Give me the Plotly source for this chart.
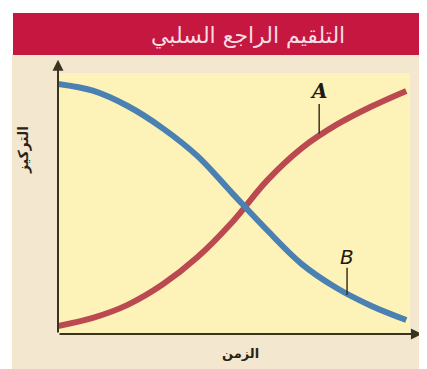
import plotly.graph_objects as go

# curve readings (time in arbitrary units, concentration 0..1)
time = [0, 1, 2, 3, 4, 5, 6, 7, 8, 9, 10]
conc_A = [0.031, 0.062, 0.112, 0.190, 0.295, 0.430, 0.590, 0.715, 0.805, 0.875, 0.935]
conc_B = [0.962, 0.936, 0.877, 0.792, 0.685, 0.542, 0.400, 0.269, 0.177, 0.108, 0.054]

title_text = "التلقيم الراجع السلبي"
x_label = "الزمن"
y_label = "التركيز"

W, H = 427, 369
L, R, T, B = 50, 400, 66, 326   # plot area in pixels


def px_x(p):
    return (p - L) / (R - L)


def px_y(p):
    return (B - p) / (B - T)


axis_col = "#3a3320"
a_x, b_x = 7.5, 8.3   # where the label leaders sit

fig = go.Figure()
fig.add_trace(go.Scatter(x=time, y=conc_A, mode="lines",
                         line=dict(color="#bb4a50", width=6, shape="spline"),
                         hoverinfo="skip"))
fig.add_trace(go.Scatter(x=time, y=conc_B, mode="lines",
                         line=dict(color="#4b80b3", width=6, shape="spline"),
                         hoverinfo="skip"))

shapes = [
    # beige panel
    dict(type="rect", xref="paper", yref="paper", layer="below",
         x0=px_x(4), x1=px_x(422), y0=px_y(361), y1=px_y(46),
         fillcolor="#f3e7cf", line=dict(width=0)),
    # yellow plot area
    dict(type="rect", xref="paper", yref="paper", layer="below",
         x0=px_x(50), x1=px_x(402), y0=px_y(326), y1=px_y(65),
         fillcolor="#fdf3b9", line=dict(width=0)),
    # title bar
    dict(type="rect", xref="paper", yref="paper", layer="below",
         x0=px_x(5), x1=px_x(427), y0=px_y(47), y1=px_y(5),
         fillcolor="#c5173f", line=dict(width=0)),
    # leader lines for A and B
    dict(type="line", xref="x", yref="y", x0=a_x, x1=a_x, y0=0.885, y1=0.77,
         line=dict(color=axis_col, width=1.5)),
    dict(type="line", xref="x", yref="y", x0=b_x, x1=b_x, y0=0.255, y1=0.15,
         line=dict(color=axis_col, width=1.5)),
]

annotations = [
    # axes with arrows
    dict(x=10.45, y=0, ax=0, ay=0, xref="x", yref="y", axref="x", ayref="y",
         text="", showarrow=True, arrowhead=2, arrowsize=1.1, arrowwidth=2,
         arrowcolor=axis_col, standoff=0, startstandoff=0),
    dict(x=0, y=1.055, ax=0, ay=0, xref="x", yref="y", axref="x", ayref="y",
         text="", showarrow=True, arrowhead=2, arrowsize=1.1, arrowwidth=2,
         arrowcolor=axis_col, standoff=0, startstandoff=0),
    # title
    dict(x=px_x(240), y=px_y(28), xref="paper", yref="paper", text=title_text,
         xanchor="center", yanchor="middle", showarrow=False,
         font=dict(family="DejaVu Sans", size=22, color="#f7dde2")),
    # axis labels
    dict(x=px_x(232), y=px_y(345), xref="paper", yref="paper", text="<b>" + x_label + "</b>",
         xanchor="center", yanchor="middle", showarrow=False,
         font=dict(family="DejaVu Sans", size=13, color="#2a2418")),
    dict(x=px_x(15), y=px_y(142), xref="paper", yref="paper", text="<b>" + y_label + "</b>",
         xanchor="center", yanchor="middle", textangle=-90, showarrow=False,
         font=dict(family="DejaVu Sans", size=14, color="#2a2418")),
    # curve labels
    dict(x=a_x, y=0.935, xref="x", yref="y", text="<b>A</b>", showarrow=False,
         xanchor="center", yanchor="middle",
         font=dict(family="DejaVu Serif", size=20, color="#1f1a12", style="italic")),
    dict(x=b_x, y=0.295, xref="x", yref="y", text="B", showarrow=False,
         xanchor="center", yanchor="middle",
         font=dict(family="DejaVu Sans", size=20, color="#1f1a12", style="italic")),
]

fig.update_layout(
    width=W, height=H,
    margin=dict(l=L, r=W - R, t=T, b=H - B),
    paper_bgcolor="white",
    plot_bgcolor="#fdf3b9",
    showlegend=False,
    shapes=shapes,
    annotations=annotations,
    xaxis=dict(range=[0, 10.05], visible=False, fixedrange=True),
    yaxis=dict(range=[0, 1], visible=False, fixedrange=True),
)

fig.write_html("out.html")
